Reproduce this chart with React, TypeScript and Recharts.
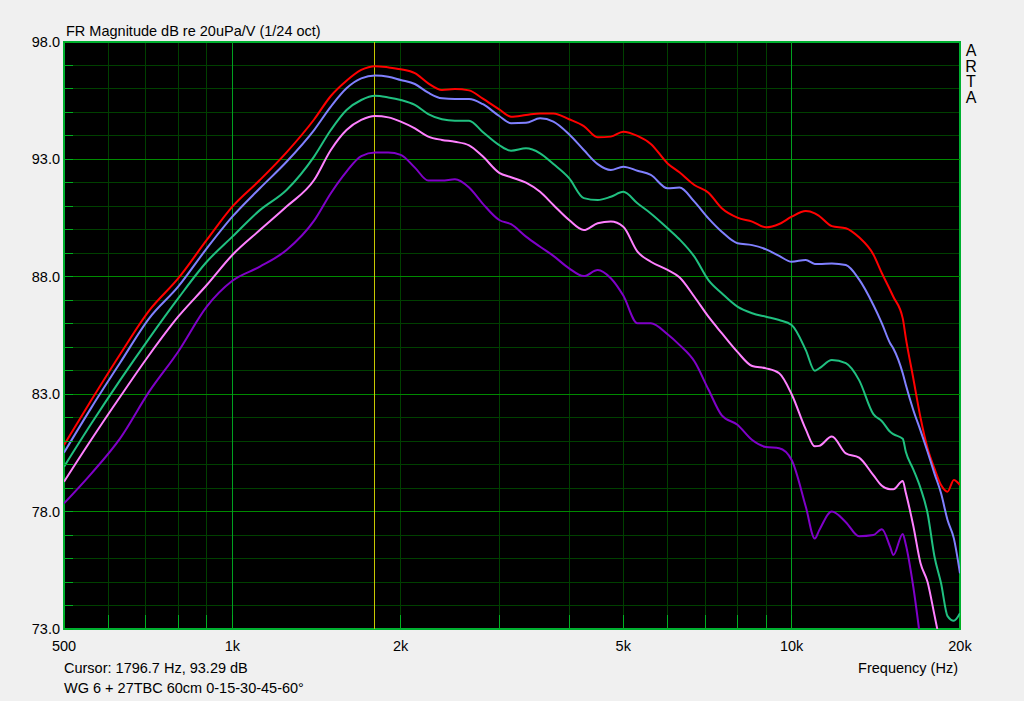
import { LineChart, Line, XAxis, YAxis, CartesianGrid, ReferenceLine, ReferenceArea } from 'recharts';

// frequency grid (Hz) shared by all five curves
const freqs = [
  500, 560, 630, 710, 800, 900, 1000, 1120, 1250, 1400, 1500, 1600, 1700, 1800, 1900, 2000,
  2120, 2240, 2370, 2500, 2650, 2800, 3000, 3150, 3350, 3550, 3750, 4000, 4250, 4500, 4750,
  5000, 5300, 5600, 6000, 6300, 6700, 7100, 7500, 8000, 8500, 9000, 9500, 10000, 10600,
  11000, 11200, 11800, 12500, 13200, 14000, 14500, 15000, 15200, 15800, 16000, 16500,
  17000, 17500, 18000, 18500, 19000, 19500, 20000,
];

// 0 deg
const red = [
  80.84, 82.76, 84.7, 86.56, 87.93, 89.57, 90.99, 92.12, 93.3, 94.7, 95.7, 96.35, 96.81, 96.97, 96.92, 96.84,
  96.67, 96.24, 95.96, 96.0, 95.94, 95.6, 95.13, 94.82, 94.89, 94.96, 94.96, 94.71, 94.42, 93.94, 93.97,
  94.18, 94.0, 93.66, 92.83, 92.45, 91.91, 91.58, 90.92, 90.52, 90.35, 90.11, 90.25, 90.56, 90.8,
  90.7, 90.59, 90.16, 90.07, 89.68, 88.95, 88.15, 87.44, 87.15, 86.23, 85.4, 83.68,
  82.0, 80.7, 79.84, 79.13, 78.85, 79.35, 79.13,
];

// 15 deg
const blue = [
  80.51, 82.44, 84.34, 86.23, 87.58, 89.21, 90.56, 91.77, 92.9, 94.25, 95.25, 96.03, 96.45, 96.57, 96.52, 96.38,
  96.21, 95.84, 95.6, 95.57, 95.57, 95.36, 94.85, 94.54, 94.56, 94.75, 94.61, 94.07, 93.4, 92.8, 92.55,
  92.69, 92.52, 92.34, 91.77, 91.8, 91.2, 90.49, 89.92, 89.43, 89.35, 89.17, 88.89, 88.64, 88.72,
  88.55, 88.55, 88.57, 88.5, 87.89, 86.8, 86.02, 85.17, 84.95, 83.89, 83.4, 82.33,
  81.45, 80.55, 79.63, 78.78, 77.64, 76.86, 75.37,
];

// 30 deg
const green = [
  79.91, 81.76, 83.6, 85.38, 87.08, 88.64, 89.71, 90.84, 91.7, 93.12, 94.25, 95.1, 95.53, 95.71, 95.64, 95.53,
  95.32, 94.93, 94.71, 94.65, 94.65, 94.18, 93.61, 93.37, 93.47, 93.26, 92.8, 92.2, 91.35, 91.27, 91.41,
  91.62, 91.13, 90.7, 90.07, 89.6, 88.86, 87.86, 87.3, 86.73, 86.45, 86.3, 86.16, 85.95, 84.88,
  84.0, 84.1, 84.46, 84.32, 83.6, 82.15, 81.85, 81.4, 81.3, 81.1, 80.55, 79.8,
  79.0, 77.93, 76.1, 74.95, 73.55, 73.35, 73.67,
];

// 45 deg
const pink = [
  79.27, 81.08, 82.89, 84.67, 86.3, 87.65, 88.93, 89.99, 90.99, 92.12, 93.4, 94.25, 94.68, 94.85, 94.79, 94.61,
  94.32, 93.97, 93.83, 93.75, 93.6, 93.14, 92.43, 92.24, 92.01, 91.62, 91.06, 90.42, 89.99, 90.28, 90.35,
  90.13, 89.07, 88.64, 88.29, 87.98, 87.15, 86.3, 85.6, 84.8, 84.2, 84.1, 83.89, 83.0, 81.5,
  80.78, 80.8, 81.2, 80.48, 80.3, 79.55, 79.1, 78.95, 78.95, 79.3, 78.8, 77.4,
  75.8, 75.0, 73.6, 72.2,
];

// 60 deg
const purple = [
  78.35, 79.63, 81.12, 83.11, 84.81, 86.73, 87.83, 88.43, 89.14, 90.39, 91.56, 92.48, 93.14, 93.29, 93.29, 93.19,
  92.65, 92.1, 92.1, 92.15, 91.8, 91.13, 90.42, 90.24, 89.71, 89.28, 88.89, 88.36, 88.03, 88.29, 87.94,
  87.2, 86.02, 86.02, 85.55, 85.1, 84.4, 83.2, 82.1, 81.7, 81.05, 80.75, 80.7, 80.2, 78.21,
  76.85, 77.2, 78.0, 77.55, 76.95, 77.0, 77.25, 76.5, 76.15, 77.05, 76.6, 74.8,
  72.5,
];

const yTicks = [73, 74, 75, 76, 77, 78, 79, 80, 81, 82, 83, 84, 85, 86, 87, 88, 89, 90, 91, 92, 93, 94, 95, 96, 97, 98];
const yLabelTicks = [73, 78, 83, 88, 93, 98];
const yMajorLines = [78, 83, 88, 93];
const xTicks = [500, 600, 700, 800, 900, 1000, 2000, 3000, 4000, 5000, 6000, 7000, 8000, 9000, 10000, 20000];
const xLabels: Record<number, string> = { 500: '500', 1000: '1k', 2000: '2k', 5000: '5k', 10000: '10k', 20000: '20k' };
const xMajorLines = [1000, 10000];
const cursorFreq = 1796.7;

const rows = freqs.map((f, i) => ({
  f,
  red: red[i],
  blue: blue[i],
  green: green[i],
  pink: pink[i],
  purple: purple[i],
}));

const FONT = '"Liberation Sans", Arial, sans-serif';

function YTick(props: any) {
  const { x, y, payload } = props;
  const v = payload.value as number;
  return (
    <g>
      <line x1={x} x2={x + 9} y1={y} y2={y} stroke="#00b020" shapeRendering="crispEdges" />
      {yLabelTicks.includes(v) && (
        <text x={x - 4} y={y} dy={5} textAnchor="end" fill="#000" fontSize={14.5} fontFamily={FONT}>
          {v.toFixed(1)}
        </text>
      )}
    </g>
  );
}

function XTick(props: any) {
  const { x, y, payload } = props;
  const v = payload.value as number;
  return (
    <g>
      <line x1={x} x2={x} y1={y - 14} y2={y} stroke="#00b020" shapeRendering="crispEdges" />
      {xLabels[v] && (
        <text x={x} y={y} dy={22} textAnchor="middle" fill="#000" fontSize={14.5} fontFamily={FONT}>
          {xLabels[v]}
        </text>
      )}
    </g>
  );
}

const txt = { position: 'absolute' as const, fontFamily: FONT, fontSize: 14.5, color: '#000', lineHeight: '16px', whiteSpace: 'nowrap' as const };

export default function App() {
  return (
    <div style={{ position: 'absolute', left: 0, top: 0, width: 1024, height: 701, background: '#f0f0f0', overflow: 'hidden' }}>
      <LineChart width={1024} height={701} data={rows} margin={{ top: 42, right: 64, bottom: 42, left: 0 }}>
        <CartesianGrid stroke="#004000" fill="#000" strokeWidth={1} shapeRendering="crispEdges" />
        <XAxis
          dataKey="f"
          type="number"
          scale="log"
          domain={[500, 20000]}
          ticks={xTicks}
          allowDataOverflow
          height={30}
          axisLine={false}
          tickLine={false}
          tickSize={0}
          tickMargin={0}
          tick={<XTick />}
          interval={0}
        />
        <YAxis
          type="number"
          domain={[73, 98]}
          ticks={yTicks}
          allowDataOverflow
          width={64}
          axisLine={false}
          tickLine={false}
          tickSize={0}
          tickMargin={0}
          tick={<YTick />}
          interval={0}
        />
        {yMajorLines.map((v) => (
          <ReferenceLine key={'h' + v} y={v} stroke="#008a00" strokeWidth={1} shapeRendering="crispEdges" />
        ))}
        {xMajorLines.map((v) => (
          <ReferenceLine key={'v' + v} x={v} stroke="#00a020" strokeWidth={1} shapeRendering="crispEdges" />
        ))}
        <ReferenceLine x={cursorFreq} stroke="#c8c800" strokeWidth={1} shapeRendering="crispEdges" />
        <ReferenceArea x1={500} x2={20000} y1={73} y2={98} fill="none" stroke="#00b030" strokeWidth={2} />
        <Line type="monotone" dataKey="red" stroke="#ff0000" strokeWidth={2} dot={false} isAnimationActive={false} />
        <Line type="monotone" dataKey="blue" stroke="#8080ff" strokeWidth={2} dot={false} isAnimationActive={false} />
        <Line type="monotone" dataKey="green" stroke="#20c080" strokeWidth={2} dot={false} isAnimationActive={false} />
        <Line type="monotone" dataKey="pink" stroke="#ff80ff" strokeWidth={2} dot={false} isAnimationActive={false} />
        <Line type="monotone" dataKey="purple" stroke="#8000c8" strokeWidth={2} dot={false} isAnimationActive={false} />
      </LineChart>
      <div style={{ ...txt, left: 66, top: 23 }}>FR Magnitude dB re 20uPa/V (1/24 oct)</div>
      <div style={{ ...txt, left: 962, top: 43, width: 18, fontSize: 16, lineHeight: '15.7px', textAlign: 'center', whiteSpace: 'normal' }}>
        A<br />R<br />T<br />A
      </div>
      <div style={{ ...txt, left: 64, top: 660 }}>Cursor: 1796.7 Hz, 93.29 dB</div>
      <div style={{ ...txt, left: 64, top: 680 }}>WG 6 + 27TBC 60cm 0-15-30-45-60°</div>
      <div style={{ ...txt, right: 66, top: 660 }}>Frequency (Hz)</div>
    </div>
  );
}
